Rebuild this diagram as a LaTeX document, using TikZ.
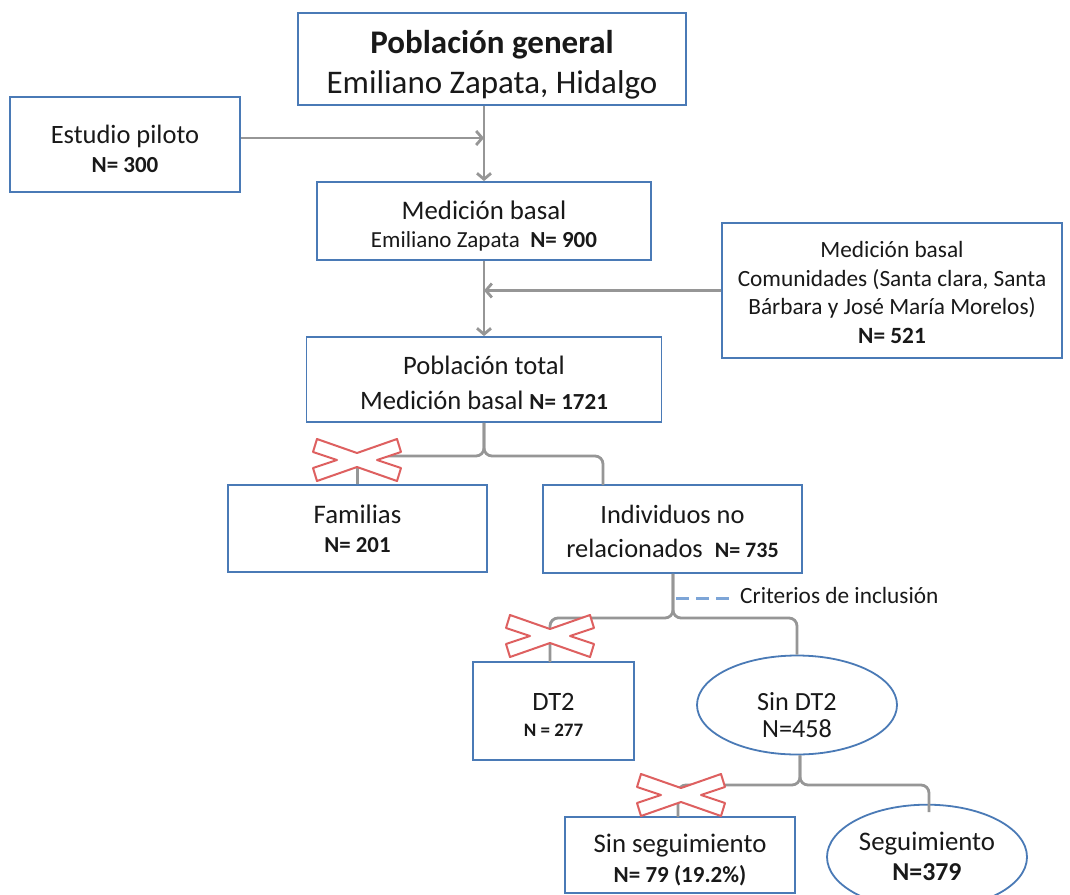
\documentclass[tikz,border=0pt]{standalone}
\usepackage{fontspec}
\setmainfont{Carlito}
\usetikzlibrary{arrows.meta,shapes.geometric}
\definecolor{boxblue}{RGB}{74,122,182}
\definecolor{lineg}{RGB}{150,150,150}
\definecolor{xred}{RGB}{222,96,96}
\definecolor{critblue}{RGB}{125,165,215}
\definecolor{ink}{RGB}{25,25,25}
\newcommand\fsz[2]{\fontsize{#1}{#2}\selectfont}
% struts fixing the room above the first line and below the last one
\newcommand\up[1]{\rule{0pt}{#1pt}}
\newcommand\dn[1]{\rule[-#1pt]{0pt}{#1pt}}
\tikzset{
  box/.style={draw=boxblue, line width=1.8, fill=white, align=center, inner sep=0pt, text=ink},
  oval/.style={ellipse, draw=boxblue, line width=1.8, fill=white, align=center, inner sep=0pt, text=ink},
  feed/.style={draw=lineg, line width=2.8, -{Straight Barb[length=6pt,width=14pt]}},
  split/.style={draw=lineg, line width=2.8, rounded corners=8pt},
  critline/.style={draw=critblue, line width=3, dash pattern=on 13pt off 7pt},
  noX/.pic={
    \draw[xred, line width=2, fill=white, line join=round]
      (-40,-21) -- (0,-7) -- (40,-21) -- (44,-8) -- (20,0) -- (44,8) -- (40,21)
      -- (0,7) -- (-40,21) -- (-44,8) -- (-20,0) -- (-44,-8) -- cycle;
  }
}
\begin{document}
\begin{tikzpicture}[x=1pt,y=-1pt]
\useasboundingbox[fill=white] (0,0) rectangle (1070,894);
\clip (0,0) rectangle (1070,894);

% boxes
\node[box, minimum width=388, minimum height=88, font=\fsz{33}{40}] (top) at (492,59)
  {\up{40}\textbf{Población general}\\Emiliano Zapata, Hidalgo\dn{12}};
\node[box, minimum width=230, minimum height=95, font=\fsz{26.5}{29}] (pil) at (125,144.5)
  {\up{30}Estudio piloto\\{\fsz{23}{29}\bfseries N= 300}\dn{4}};
\node[box, minimum width=334, minimum height=78, font=\fsz{26.8}{28}] (mb) at (484,221)
  {\up{32}Medición basal\\{\fsz{23}{28}Emiliano Zapata\ \ \textbf{N= 900}}\dn{8}};
\node[box, minimum width=340, minimum height=135, font=\fsz{23.3}{28.5}] (com) at (892,290.5)
  {\up{30}Medición basal\\Comunidades (Santa clara, Santa\\Bárbara y José María Morelos)\\\textbf{N= 521}\dn{10}};
\node[box, minimum width=355, minimum height=85, font=\fsz{26.6}{35}] (pt) at (484,379.5)
  {\up{30}Población total\\Medición basal {\fsz{23}{35}\bfseries N= 1721}\dn{6}};
\node[box, minimum width=259, minimum height=87, font=\fsz{26.8}{29}] (fam) at (357.5,528.5)
  {\up{30}Familias\\{\fsz{22.8}{29}\bfseries N= 201}\dn{12}};
\node[box, minimum width=259, minimum height=88, font=\fsz{26.4}{34}] (ind) at (672.5,529)
  {\up{30}Individuos no\\relacionados\ \ {\fsz{22}{34}\bfseries N= 735}\dn{8}};
\node[box, minimum width=161, minimum height=98, font=\fsz{26.5}{26}] (dt2) at (553.5,711)
  {\up{30}DT2\\{\fsz{19}{26}\bfseries N = 277}\dn{6}};
\node[oval, minimum width=200, minimum height=94, font=\fsz{26.2}{27}] (sdt) at (797,705)
  {\up{40}Sin DT2\\N=458\dn{3}};
\node[box, minimum width=230, minimum height=76, font=\fsz{26.8}{30}] (sseg) at (680,855)
  {\up{34}Sin seguimiento\\{\fsz{23}{30}\bfseries N= 79 (19.2\%)}\dn{10}};
\node[oval, minimum width=200, minimum height=90, font=\fsz{26.8}{30}] (seg) at (927,857)
  {\up{30}Seguimiento\\{\fsz{25.8}{30}\bfseries N=379}\dn{14}};

% merging arrows
\coordinate (m1) at (484,138);
\draw[feed] (mb.north |- top.south) -- (mb.north);
\draw[feed] (pil.east |- m1) -- (m1);
\draw[feed] (mb.south) -- (pt.north);
\draw[feed] (com.west) -- (pt.north |- com.west);

% branching connectors
\coordinate (j1) at (484,456);
\coordinate (r1) at (603,485);
\draw[split] (pt.south) |- (fam.north |- j1) -- (fam.north);
\draw[split] (pt.south) |- (r1 |- j1) -- (r1);

\coordinate (j2) at (673,618);
\coordinate (l2) at (550,662);
\draw[split] (ind.south -| j2) |- (l2 |- j2) -- (l2);
\draw[split] (ind.south -| j2) |- (sdt.north |- j2) -- (sdt.north);

\coordinate (j3) at (800,785);
\coordinate (l3) at (678,817);
\coordinate (r3) at (929,812);
\draw[split] (sdt.south -| j3) |- (l3 |- j3) -- (l3);
\draw[split] (sdt.south -| j3) |- (r3 |- j3) -- (r3);

% excluded branches
\pic at (357,460) {noX};
\pic at (550,636) {noX};
\pic at (681,795) {noX};

% inclusion criteria label
\coordinate (c0) at (676,598);
\node[anchor=base west, inner sep=0pt, text=ink, font=\fsz{23.3}{26}] (crit) at (740,603) {Criterios de inclusión};
\draw[critline] (c0) -- (733,598);
\end{tikzpicture}
\end{document}
